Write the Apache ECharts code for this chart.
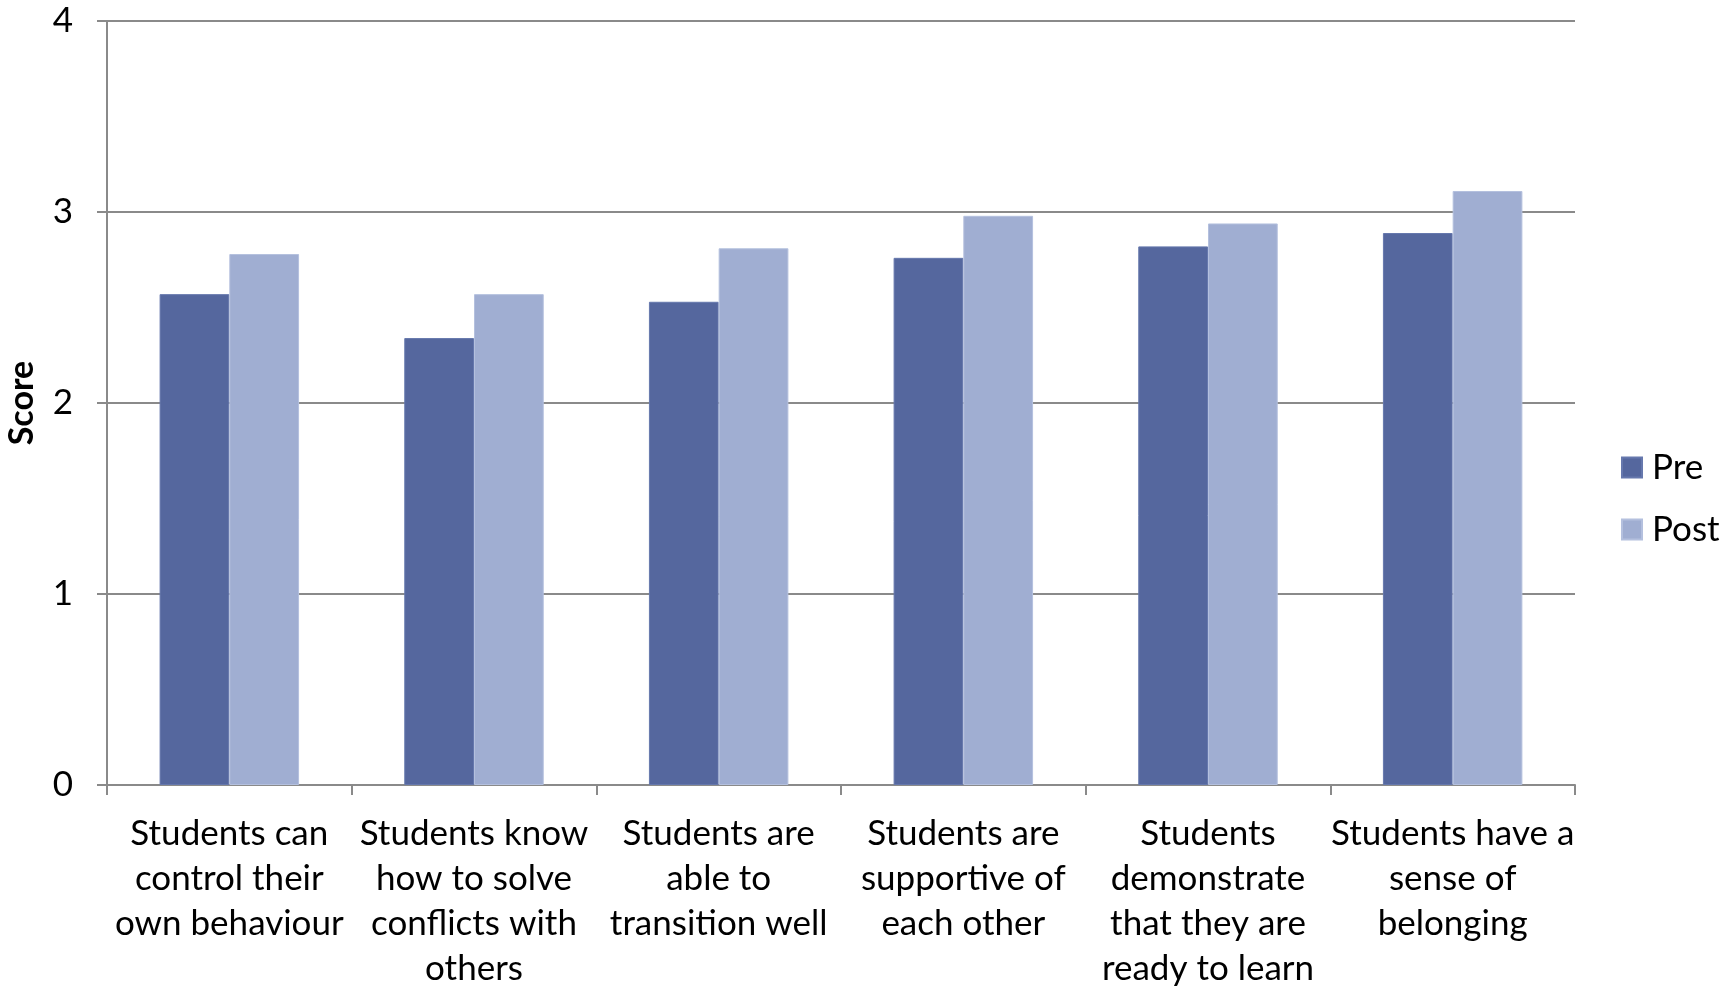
<!DOCTYPE html>
<html>
<head>
<meta charset="utf-8">
<script src="https://cdn.jsdelivr.net/npm/echarts@6/dist/echarts.min.js"></script>
<style>
html,body{margin:0;padding:0;background:#fff;}
#c{width:1734px;height:988px;}
</style>
</head>
<body>
<div id="c"></div>
<script>
const categories = [
  "Students can\ncontrol their\nown behaviour",
  "Students know\nhow to solve\nconflicts with\nothers",
  "Students are\nable to\ntransition well",
  "Students are\nsupportive of\neach other",
  "Students\ndemonstrate\nthat they are\nready to learn",
  "Students have a\nsense of\nbelonging"
];
const seriesNames = ["Pre", "Post"];
const preValues = [2.57, 2.34, 2.53, 2.76, 2.82, 2.89];
const postValues = [2.78, 2.57, 2.81, 2.98, 2.94, 3.11];
const yTicks = [0, 1, 2, 3, 4];

const FONT = "Lato, 'Open Sans', sans-serif";
const chart = echarts.init(document.getElementById('c'), null, {renderer: 'canvas'});
chart.setOption({
  animation: false,
  backgroundColor: '#ffffff',
  textStyle: {fontFamily: FONT},
  grid: {left: 107, right: 159, top: 21, bottom: 203, containLabel: false, outerBoundsMode: 'none'},
  legend: {
    orient: 'vertical',
    left: 1621,
    top: 447,
    padding: 0,
    itemWidth: 20,
    itemHeight: 20,
    itemGap: 21,
    icon: 'rect',
    textStyle: {fontFamily: FONT, fontSize: 35, color: '#000', lineHeight: 41, padding: [0,0,0,5]},
    data: seriesNames
  },
  xAxis: {
    type: 'category',
    data: categories,
    axisLine: {lineStyle: {color: '#8a8a8a', width: 2}},
    axisTick: {show: true, length: 10, lineStyle: {color: '#8a8a8a', width: 2}, alignWithLabel: false},
    axisLabel: {
      interval: 0,
      margin: 26,
      fontFamily: FONT,
      fontSize: 35,
      lineHeight: 45,
      color: '#000',
      align: 'center'
    }
  },
  yAxis: {
    type: 'value',
    min: yTicks[0],
    max: yTicks[yTicks.length - 1],
    interval: 1,
    name: 'Score',
    nameLocation: 'middle',
    nameGap: 68,
    nameTextStyle: {fontFamily: FONT, fontSize: 34, fontWeight: 'bold', color: '#000'},
    axisLine: {show: true, lineStyle: {color: '#8a8a8a', width: 2}},
    axisTick: {show: true, length: 10, lineStyle: {color: '#8a8a8a', width: 2}},
    splitLine: {show: true, lineStyle: {color: '#8a8a8a', width: 2}},
    axisLabel: {
      margin: 34,
      fontFamily: FONT,
      fontSize: 35,
      color: '#000'
    }
  },
  series: [
    {
      name: seriesNames[0],
      type: 'bar',
      data: preValues,
      barGap: '0%',
      barCategoryGap: '43%',
      itemStyle: {color: '#55679E', borderColor: '#6678ad', borderWidth: 1}
    },
    {
      name: seriesNames[1],
      type: 'bar',
      data: postValues,
      barGap: '0%',
      barCategoryGap: '43%',
      itemStyle: {color: '#A0AED2', borderColor: '#b4c0de', borderWidth: 1}
    }
  ]
});
</script>
</body>
</html>
